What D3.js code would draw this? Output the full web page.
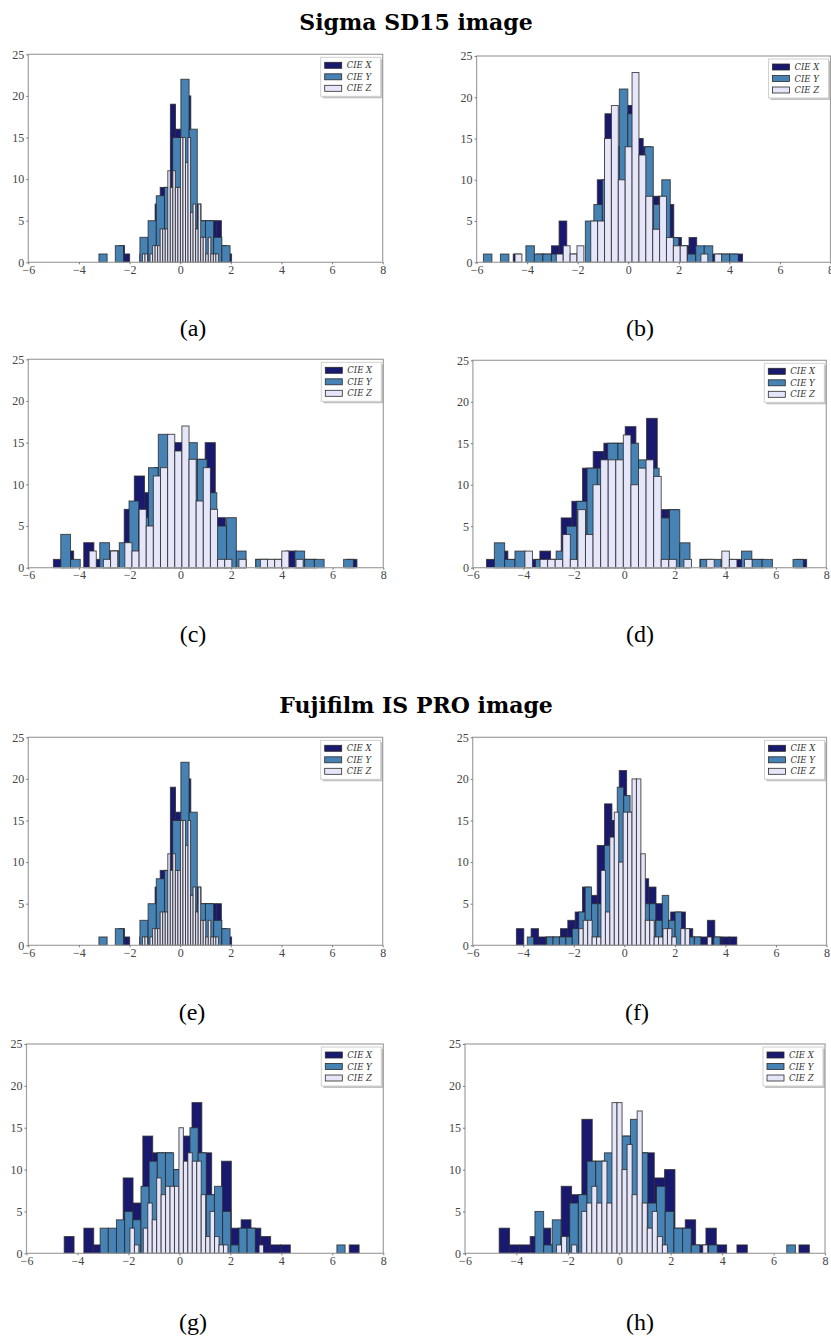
<!DOCTYPE html>
<html>
<head>
<meta charset="utf-8">
<script src="https://cdn.jsdelivr.net/npm/d3@7"></script>
<style>
  body { margin: 0; background: #fff; }
</style>
</head>
<body>
<div id="chart"></div>
<script>
var width = 831,
    height = 1338;

var names = ["CIE X", "CIE Y", "CIE Z"],
    colors = ["#191970", "#4682b4", "#e6e6fa"];

var xTicks = [-6, -4, -2, 0, 2, 4, 6, 8],
    yTicks = [0, 5, 10, 15, 20, 25];

var titles = ["Sigma SD15 image", "Fujifilm IS PRO image"];

// histogram data: [lo, hi] range of each series (X, Y, Z), then bin counts
var aRange = [[-2.40, 2.03], [-3.21, 1.97], [-1.49, 1.51]];
var aX = [2,1,0,0,1,2,3,7,9,9,19,16,15,20,15,7,5,5,5,5,2,1];
var aY = [1,0,2,0,0,3,5,8,9,15,22,16,5,5,3,2];
var aZ = [1,1,0,1,2,2,2,4,4,4,11,9,11,9,9,15,15,12,15,6,7,4,7,3,3,1,3,1,1,1];

var bRange = [[-4.55, 4.52], [-5.73, 4.35], [-4.48, 3.69]];
var bX = [1,0,0,1,1,2,5,1,1,0,2,10,18,14,19,19,15,14,8,8,7,3,2,3,1,1,1,1,1,1];
var bY = [1,0,1,0,0,2,1,1,1,0,0,0,5,7,10,14,21,18,13,14,7,10,3,2,1,2,2,0,1,1];
var bZ = [1,0,0,0,0,0,1,2,1,2,0,5,5,15,19,10,14,23,13,8,4,8,3,2,2,0,0,1,0,1];

var cRange = [[-5.01, 6.96], [-4.72, 6.82], [-3.60, 4.84]];
var cX = [1,2,0,3,1,2,2,7,11,9,12,15,15,10,13,15,6,3,1,0,1,0,1,2,1,1,0,0,0,1];
var cY = [4,1,0,0,3,2,3,8,6,12,16,14,14,15,13,9,5,6,2,0,1,1,0,0,2,1,1,0,0,1];
var cZ = [2,0,1,2,0,3,2,7,5,11,12,16,14,17,13,8,12,7,1,1,0,1,0,0,1,1,1,2,0,1];

var dRange = [[-5.46, 7.22], [-5.15, 7.09], [-3.94, 5.06]];
var dX = [1,2,1,1,1,2,1,6,8,12,14,15,15,17,12,18,7,7,2,0,1,0,1,1,1,1,0,0,0,1];
var dY = [3,1,2,0,1,1,2,5,8,12,12,15,15,15,13,12,6,7,3,0,1,1,0,0,2,1,1,0,0,1];
var dZ = [2,0,1,1,1,4,1,7,4,10,13,13,13,16,10,12,13,11,1,1,0,1,0,0,1,0,2,1,0,1];

// (e) is the same picture as (a)
var eRange = aRange, eX = aX, eY = aY, eZ = aZ;

var fRange = [[-4.27, 4.45], [-3.84, 3.79], [-1.80, 3.46]];
var fX = [2,0,2,1,1,1,2,3,4,7,6,12,17,15,21,16,8,8,7,5,3,4,4,2,1,1,3,1,1,1];
var fY = [1,0,0,1,1,1,1,2,4,7,5,5,12,13,19,18,12,7,5,5,3,6,3,4,1,1,1,0,0,1];
var fZ = [2,3,3,1,1,9,4,13,16,10,16,16,20,20,11,3,3,1,1,2,2,1,0,2,2,0,0,0,0,1];

var gRange = [[-4.52, 7.05], [-3.11, 6.50], [-1.94, 3.30]];
var gX = [2,0,3,1,0,2,9,6,14,12,12,10,14,18,12,7,11,3,4,3,2,1,1,0,0,0,0,0,0,1];
var gY = [3,3,4,5,4,8,11,12,12,10,11,15,12,7,8,5,1,3,3,0,0,0,0,0,0,0,0,0,0,1];
var gZ = [3,1,0,3,6,4,9,7,8,8,8,15,11,12,11,11,7,2,5,2,1,1,0,0,0,0,0,0,0,1];

var hRange = [[-4.67, 7.39], [-3.28, 6.85], [-2.44, 3.44]];
var hX = [3,1,1,2,3,1,8,7,16,11,11,13,14,12,12,9,10,3,4,1,3,1,0,1,0,0,0,0,0,1];
var hY = [5,1,4,2,6,7,11,11,12,12,14,16,12,6,8,5,3,3,1,0,1,0,0,0,0,0,0,0,0,1];
var hZ = [1,2,0,1,0,5,6,8,6,11,6,18,18,10,13,7,17,6,3,5,2,1,0,0,0,0,0,0,0,1];

// panel layout: [x(-6), x(8), y(25), y(0)] in pixels, caption position
var panels = [
  {id: "a", range: aRange, counts: [aX, aY, aZ], box: [28.3, 382.7, 54.3, 262.3], cap: [193, 328]},
  {id: "b", range: bRange, counts: [bX, bY, bZ], box: [476.6, 830.5, 56, 262.3], cap: [640, 328]},
  {id: "c", range: cRange, counts: [cX, cY, cZ], box: [28.3, 383.3, 359.3, 567.7], cap: [193, 634]},
  {id: "d", range: dRange, counts: [dX, dY, dZ], box: [472.9, 826.3, 360.3, 567.7], cap: [640, 634]},
  {id: "e", range: eRange, counts: [eX, eY, eZ], box: [28.3, 382.7, 737.3, 945.3], cap: [192, 1012]},
  {id: "f", range: fRange, counts: [fX, fY, fZ], box: [472.7, 826.5, 737.3, 945.3], cap: [637, 1012]},
  {id: "g", range: gRange, counts: [gX, gY, gZ], box: [26.5, 383.3, 1044, 1253.3], cap: [193, 1322]},
  {id: "h", range: hRange, counts: [hX, hY, hZ], box: [465, 825, 1044, 1253.3], cap: [640, 1322]}
];

var svg = d3.select("#chart").append("svg")
  .attr("width", width)
  .attr("height", height)
  .style("font-family", "'Liberation Serif', 'DejaVu Serif', serif");

// section titles
svg.selectAll("text.title")
  .data(titles)
  .join("text")
  .attr("class", "title")
  .attr("x", 416)
  .attr("y", (d, i) => i == 0 ? 22 : 705)
  .attr("dominant-baseline", "central")
  .attr("text-anchor", "middle")
  .style("font-family", "'DejaVu Serif', serif")
  .style("font-size", "22px")
  .style("font-weight", "bold")
  .text(d => d);

var fmt = d => d < 0 ? "\u2212" + (-d) : "" + d;

panels.forEach(function(p) {
  var b = p.box;
  var x = d3.scaleLinear().domain([-6, 8]).range([b[0], b[1]]);
  var y = d3.scaleLinear().domain([0, 25]).range([b[3], b[2]]);

  var g = svg.append("g").attr("class", "panel-" + p.id);

  //draw the three histograms, X first so Z ends on top
  p.counts.forEach(function(c, s) {
    var edge = d3.scaleLinear().domain([0, c.length]).range(p.range[s]);
    var bins = c.map((v, i) => ({v: v, i: i})).filter(d => d.v > 0);

    g.append("g")
      .selectAll("rect")
      .data(bins)
      .join("rect")
      .attr("x", d => x(edge(d.i)))
      .attr("width", d => x(edge(d.i + 1)) - x(edge(d.i)))
      .attr("y", d => y(d.v))
      .attr("height", d => y(0) - y(d.v))
      .attr("fill", colors[s])
      .attr("stroke", "#2a2a2a")
      .attr("stroke-opacity", 0.8)
      .attr("stroke-width", 1);
  });

  //axes frame
  g.append("rect")
    .attr("x", b[0]).attr("y", b[2])
    .attr("width", b[1] - b[0]).attr("height", b[3] - b[2])
    .attr("fill", "none")
    .attr("stroke", "#a0a0a0")
    .attr("stroke-width", 1.2);

  var xAxis = g.append("g")
    .attr("transform", "translate(0," + b[3] + ")")
    .call(d3.axisBottom(x).tickValues(xTicks).tickSize(2).tickPadding(1).tickFormat(fmt));

  var yAxis = g.append("g")
    .attr("transform", "translate(" + b[0] + ",0)")
    .call(d3.axisLeft(y).tickValues(yTicks).tickSize(2).tickPadding(2).tickFormat(fmt));

  [xAxis, yAxis].forEach(function(ax) {
    ax.select(".domain").remove();
    ax.selectAll(".tick line").attr("stroke", "#777");
    ax.selectAll(".tick text")
      .style("font-family", "'Liberation Serif', serif")
      .style("font-size", "12px")
      .attr("fill", "#444");
  });

  //legend with shadow
  var lx = b[1] - 62, ly = b[2] + 3;
  g.append("rect")
    .attr("x", lx + 2).attr("y", ly + 2)
    .attr("width", 60).attr("height", 39)
    .attr("fill", "#9a9a9a").attr("opacity", 0.6);
  g.append("rect")
    .attr("x", lx).attr("y", ly)
    .attr("width", 60).attr("height", 39)
    .attr("fill", "#fff")
    .attr("stroke", "#d0d0d0");

  var items = g.append("g")
    .selectAll("g")
    .data(names)
    .join("g")
    .attr("transform", (d, i) => "translate(" + (lx + 4) + "," + (ly + 8 + i * 11.5) + ")");

  items.append("rect")
    .attr("x", 0).attr("y", -3)
    .attr("width", 17).attr("height", 6)
    .attr("fill", (d, i) => colors[i])
    .attr("stroke", "#2a2a2a")
    .attr("stroke-width", 0.8);

  items.append("text")
    .attr("x", 22)
    .attr("dominant-baseline", "central")
    .style("font-family", "'DejaVu Serif', serif")
    .style("font-size", "8.5px")
    .style("font-style", "italic")
    .attr("fill", "#333")
    .text(d => d);

  //panel caption
  svg.append("text")
    .attr("x", p.cap[0])
    .attr("y", p.cap[1])
    .attr("text-anchor", "middle")
    .attr("dominant-baseline", "central")
    .style("font-size", "24px")
    .text("(" + p.id + ")");
});
</script>
</body>
</html>
